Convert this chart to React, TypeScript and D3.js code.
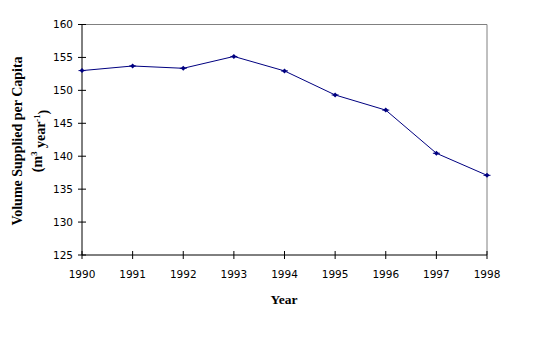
import React from "react";
import * as d3 from "d3";

const years = [1990, 1991, 1992, 1993, 1994, 1995, 1996, 1997, 1998];
const volume = [153.0, 153.7, 153.35, 155.15, 152.95, 149.3, 147.0, 140.45, 137.1];
const yTicks = [125, 130, 135, 140, 145, 150, 155, 160];

export default function App() {
  const W = 538, H = 358;
  const left = 82, right = 487, top = 24.5, bottom = 255;
  const x = d3.scaleLinear().domain([1990, 1998]).range([left, right]);
  const y = d3.scaleLinear().domain([125, 160]).range([bottom, top]);
  const line = d3.line<number>().x((_, i) => x(years[i])).y((d) => y(d));
  const tickFont = "'DejaVu Sans', Verdana, sans-serif";
  const titleFont = "'Liberation Serif', 'Times New Roman', serif";
  const navy = "#000080";
  return (
    <svg width={W} height={H} style={{ position: "absolute", left: 0, top: 0, background: "#fff" }}>
      <rect x={0} y={0} width={W} height={H} fill="#fff" />
      <line x1={left} y1={top} x2={right} y2={top} stroke="#808080" strokeWidth={1} />
      <line x1={right} y1={top} x2={right} y2={bottom} stroke="#808080" strokeWidth={1} />
      <line x1={left} y1={top} x2={left} y2={bottom} stroke="#000" strokeWidth={1} />
      <line x1={left} y1={bottom} x2={right} y2={bottom} stroke="#000" strokeWidth={1} />
      {yTicks.map((t) => (
        <g key={t}>
          <line x1={left - 4} x2={left + 4} y1={y(t)} y2={y(t)} stroke="#000" />
          <text x={left - 9} y={y(t)} dy="0.35em" textAnchor="end" fontFamily={tickFont} fontSize={10.5} fill="#000">
            {t}
          </text>
        </g>
      ))}
      {years.map((t) => (
        <g key={t}>
          <line x1={x(t)} x2={x(t)} y1={bottom - 4} y2={bottom + 4} stroke="#000" />
          <text x={x(t)} y={274} dy="0.35em" textAnchor="middle" fontFamily={tickFont} fontSize={10.5} fill="#000">
            {t}
          </text>
        </g>
      ))}
      <path d={line(volume) || ""} fill="none" stroke={navy} strokeWidth={1} />
      {volume.map((v, i) => {
        const cx = x(years[i]);
        const cy = y(v);
        return (
          <g key={i}>
            <path d={`M${cx - 2.5},${cy}L${cx},${cy - 2.5}L${cx + 2.5},${cy}L${cx},${cy + 2.5}Z`} fill={navy} />
            <line x1={cx - 3.5} x2={cx + 3.5} y1={cy} y2={cy} stroke={navy} />
          </g>
        );
      })}
      <text x={284} y={299} dy="0.35em" textAnchor="middle" fontFamily={titleFont} fontWeight="bold" fontSize={13.5} fill="#000">
        Year
      </text>
      <g transform={`translate(17,141) rotate(-90)`}>
        <text x={0} y={0} dy="0.35em" textAnchor="middle" fontFamily={titleFont} fontWeight="bold" fontSize={14} fill="#000">
          Volume Supplied per Capita
        </text>
      </g>
      <g transform={`translate(37,141) rotate(-90)`}>
        <text x={0} y={0} dy="0.35em" textAnchor="middle" fontFamily={titleFont} fontWeight="bold" fontSize={14} fill="#000">
          (m<tspan fontSize={8.5} dy="-0.55em">3</tspan>
          <tspan dy="0.55em"> year</tspan>
          <tspan fontSize={8.5} dy="-0.55em">-1</tspan>
          <tspan dy="0.55em">)</tspan>
        </text>
      </g>
    </svg>
  );
}
